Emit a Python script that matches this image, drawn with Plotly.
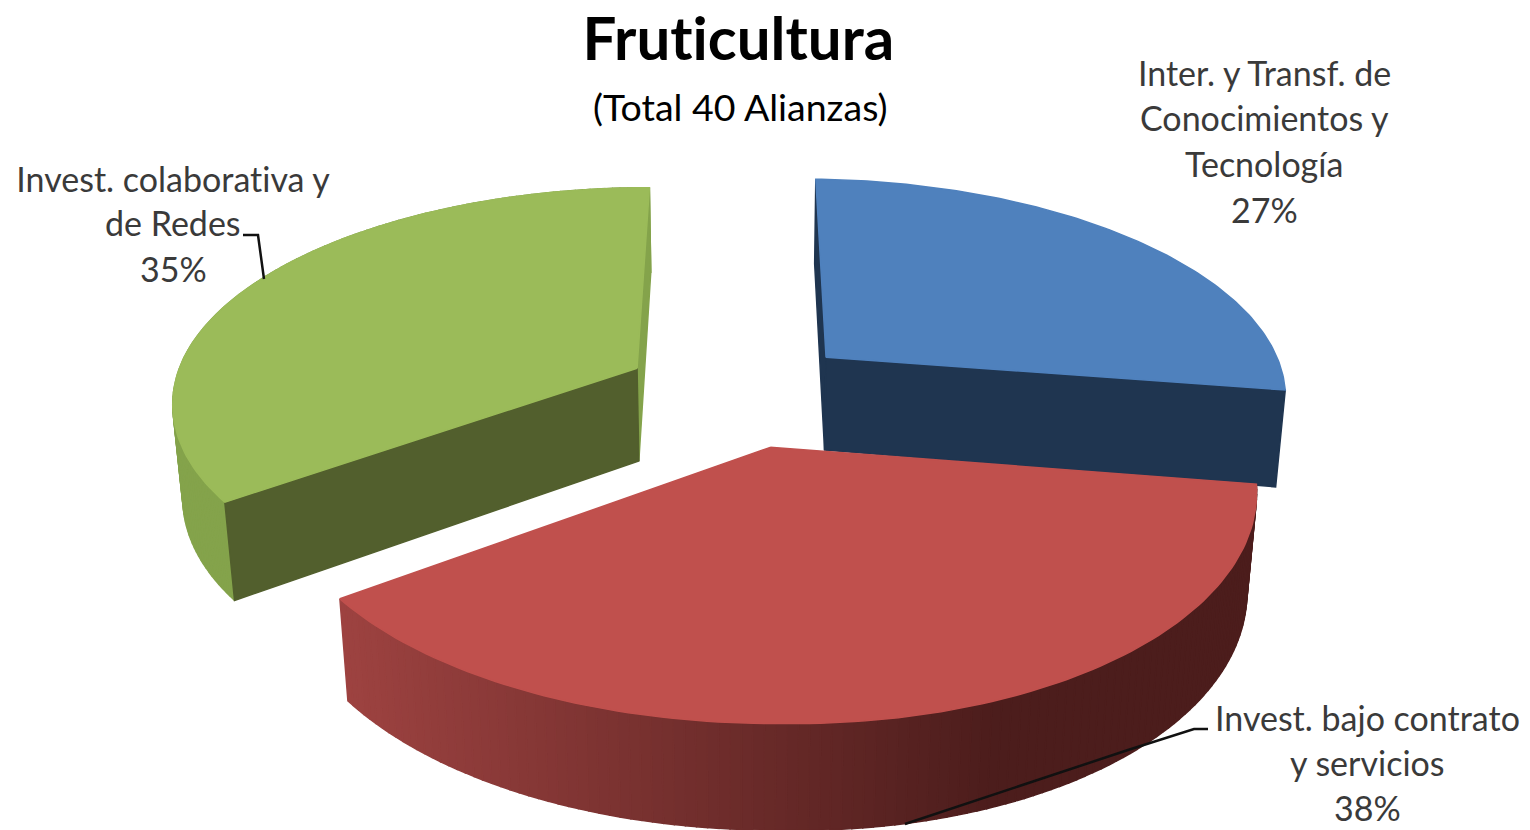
import numpy as np
import plotly.graph_objects as go

# ---- data ----
categories = ["Inter. y Transf. de Conocimientos y Tecnología",
              "Invest. bajo contrato y servicios",
              "Invest. colaborativa y de Redes"]
shares = [27, 38, 35]
label_lines = [["Inter. y Transf. de", "Conocimientos y", "Tecnología"],
               ["Invest. bajo contrato", "y servicios"],
               ["Invest. colaborativa y", "de Redes"]]
title_text = "Fruticultura"
subtitle_text = "(Total 40 Alianzas)"

# ---- styles ----
TOP = ["#4F81BD", "#C0504D", "#9BBB59"]
CUT = ["#1F3550", "#4C1D1C", "#525F2D"]
GREEN_SIDE = "#84A34B"
RED_WALL_L = np.array([0x9E, 0x43, 0x41])
RED_WALL_R = np.array([0x4C, 0x1D, 0x1C])
LABEL_FONT = "Lato"
LABEL_COLOR = "#3A3A3A"

# ---- 3D pie projection onto the page (pixel axes) ----
EXPLODE = 0.2525
VX, HORIZON = 740.0, -1140.0
AX, BY, KY = 465.0, 1532.6, 0.141
Q_DEPTH, D_DEPTH = 0.018, 123.0
BOTTOM_SKEW = 0.006


def project(X, Y, bottom=False):
    W = 1 + KY * np.asarray(Y, float)
    if bottom:
        W = W + Q_DEPTH
        sx = VX + AX * np.asarray(X, float) / W
        return sx, HORIZON + (BY + D_DEPTH) / W + BOTTOM_SKEW * np.maximum(sx - VX, 0)
    return VX + AX * np.asarray(X, float) / W, HORIZON + BY / W


fracs = np.array(shares, float) / sum(shares)
edges = np.concatenate([[0], np.cumsum(fracs)]) * 2 * np.pi

fig = go.Figure()


def rim(i, ox, oy, ang):
    """point on slice i's outer edge at pie angle ang (clockwise from 12 o'clock)"""
    s, c = np.sin(ang), np.cos(ang)
    rx = np.where(s < 0, 1.015 if i == 1 else 1.0, 0.993)
    ry = np.where(c > 0, 0.98, 1.0 if i == 2 else 1.015)
    return ox + rx * s, oy + ry * c - 0.028 * np.maximum(s, 0)


def poly(xs, ys, color):
    fig.add_trace(go.Scatter(x=np.append(xs, xs[0]), y=np.append(ys, ys[0]), mode="lines",
                             fill="toself", fillcolor=color,
                             line=dict(color=color, width=1.5),
                             hoverinfo="skip", showlegend=False))


def geom(i):
    a0, a1 = edges[i], edges[i + 1]
    mid = (a0 + a1) / 2
    ox, oy = EXPLODE * np.sin(mid), EXPLODE * np.cos(mid)
    t = np.linspace(a0, a1, 120)
    return ox, oy, t


def quad(i, ox, oy, ang, color):
    """radial cut wall at angle ang"""
    rx_, ry_ = rim(i, ox, oy, ang)
    X = np.array([ox, rx_])
    Y = np.array([oy, ry_])
    xt, yt = project(X, Y)
    xb, yb = project(X, Y, True)
    poly(np.concatenate([xt, xb[::-1]]), np.concatenate([yt, yb[::-1]]), color)


def top(i, ox, oy, t):
    rx_, ry_ = rim(i, ox, oy, t)
    xt, yt = project(np.concatenate([[ox], rx_]), np.concatenate([[oy], ry_]))
    poly(xt, yt, TOP[i])


def wall(i, ox, oy, t, colorfn):
    X, Y = rim(i, ox, oy, t)
    xt, yt = project(X, Y)
    xb, yb = project(X, Y, True)
    for k in range(len(t) - 1):
        poly(np.array([xt[k], xt[k + 1], xb[k + 1], xb[k]]),
             np.array([yt[k], yt[k + 1], yb[k + 1], yb[k]]),
             colorfn((xt[k] + xt[k + 1]) / 2))


# blue slice
ox, oy, t = geom(0)
quad(0, ox, oy, edges[0], CUT[0])
quad(0, ox, oy, edges[1], CUT[0])
top(0, ox, oy, t)

# green slice
ox, oy, t = geom(2)
quad(2, ox, oy, edges[3], GREEN_SIDE)
wall(2, ox, oy, t, lambda x: GREEN_SIDE)
quad(2, ox, oy, edges[2], CUT[2])
top(2, ox, oy, t)


# red slice
def red_color(x):
    f = np.clip((x - 340) / 660, 0, 1)
    c = RED_WALL_L + (RED_WALL_R - RED_WALL_L) * f
    return "rgb(%d,%d,%d)" % tuple(c)


ox, oy, t = geom(1)
wall(1, ox, oy, t, red_color)
top(1, ox, oy, t)

# leader lines
for lx, ly in [([243, 258, 264], [235, 235, 279]),
               ([1208, 1194, 1128, 905], [729, 729, 750, 824])]:
    fig.add_trace(go.Scatter(x=lx, y=ly, mode="lines", line=dict(color="#111111", width=2.5),
                             hoverinfo="skip", showlegend=False))


def txt(x, y, s, size, color=LABEL_COLOR, bold=False):
    fig.add_annotation(x=x, y=y, xref="x", yref="y", text=f"<b>{s}</b>" if bold else s,
                       showarrow=False, xanchor="center", yanchor="middle",
                       font=dict(family=LABEL_FONT, size=size, color=color))


txt(738.5, 37, title_text, 60, "#000000", True)
txt(740.5, 106, subtitle_text, 37.5, "#000000")

# labels: lines + share
placements = [(1264, [72, 117, 163, 209]), (1367, [717, 762, 807]), (173, [178, 222, 268])]
for i, (cx, ys) in enumerate(placements):
    lines = label_lines[i] + [f"{shares[i]}%"]
    for s, y in zip(lines, ys):
        txt(cx, y, s, 34)

fig.update_layout(width=1530, height=830, margin=dict(l=0, r=0, t=0, b=0),
                  paper_bgcolor="white", plot_bgcolor="white", showlegend=False,
                  xaxis=dict(range=[0, 1530], visible=False, fixedrange=True),
                  yaxis=dict(range=[830, 0], visible=False, fixedrange=True))

POST = """
document.body.style.margin='0';document.body.style.overflow='hidden';
var st=document.createElement('style');
st.textContent="svg text{font-variant-ligatures:none !important;font-feature-settings:'liga' 0 !important;}";
document.head.appendChild(st);
"""
fig.write_html("out.html", post_script=POST, config=dict(displayModeBar=False))
